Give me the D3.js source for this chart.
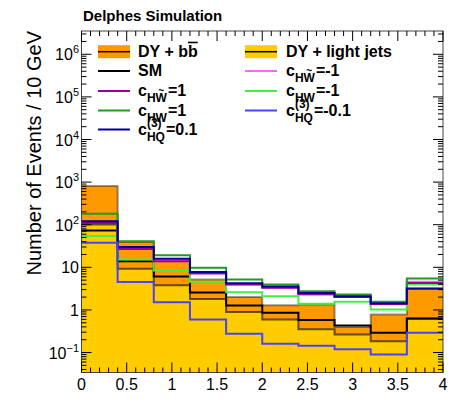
<!DOCTYPE html>
<html>
<head>
<meta charset="utf-8">
<script src="https://cdn.jsdelivr.net/npm/d3@7"></script>
<style>
body{margin:0;background:#fff;}
text{font-family:"Liberation Sans",Arial,Helvetica,sans-serif;}
</style>
</head>
<body>
<div id="chart"></div>
<script>
// bin edges of the histogram (10 bins, 0.4 wide)
var binEdges=[0,0.4,0.8,1.2,1.6,2.0,2.4,2.8,3.2,3.6,4.0];
// backgrounds (stacked)
var dyLight=[101,9.2,3.8,1.8,0.90,0.60,0.35,0.265,0.185,0.62];
var dyBB=[714,30.3,10.6,3.4,1.10,0.69,0.99,0.135,0.595,2.53];
// signal hypotheses
var sm=[73,13.9,6.1,2.55,1.27,0.855,0.58,0.43,0.29,0.63];
var cHWt_p=[110,27,13.9,7.2,3.95,3.3,2.35,2.0,1.38,4.3];
var cHWt_m=[112,28,14.3,7.4,4.0,3.35,2.26,2.02,1.36,4.56];
var cHW_p=[180,41,19.3,9.8,5.2,3.95,2.75,2.3,1.55,5.45];
var cHW_m=[54,15.2,8.4,4.6,2.6,2.1,1.39,1.55,1.02,3.95];
var cHQ_p=[121,30,15.8,7.8,4.25,3.54,2.5,2.1,1.44,3.18];
var cHQ_m=[37.5,4.5,1.52,0.60,0.275,0.16,0.145,0.12,0.09,0.29];

var xTicks=[0,0.5,1,1.5,2,2.5,3,3.5,4];
var xTickLabels=["0","0.5","1","1.5","2","2.5","3","3.5","4"];
var yDecades=[-1,0,1,2,3,4,5,6];

var W=458,H=401;
var fx0=81.5,fx1=443,fyT=31,fyB=372.5;
var yMin=0.034,yMax=3.52e6;

var svg=d3.select("#chart").append("svg").attr("width",W).attr("height",H);
var x=d3.scaleLinear().domain([0,4]).range([fx0,fx1]);
var y=d3.scaleLog().domain([yMin,yMax]).range([fyB,fyT]);

svg.append("clipPath").attr("id","frame")
	.append("rect").attr("x",fx0).attr("y",fyT).attr("width",fx1-fx0).attr("height",fyB-fyT);

var plot=svg.append("g").attr("clip-path","url(#frame)");

// stacked backgrounds
var rows=binEdges.map(function(e,i){
	var k=Math.min(i,dyLight.length-1);
	return {x:e,light:dyLight[k],bb:dyBB[k]};
});
var stacked=d3.stack().keys(["light","bb"])(rows);
var fills=["#ffcc00","#ff9900"];
var area=d3.area().curve(d3.curveStepAfter)
	.x(function(d){return x(d.data.x);})
	.y0(function(d){return d[0]>0?y(d[0]):fyB+5;})
	.y1(function(d){return y(d[1]);});
var topLine=d3.line().curve(d3.curveStepAfter)
	.x(function(d){return x(d.data.x);})
	.y(function(d){return y(d[1]);});

stacked.forEach(function(s,i){
	plot.append("path").attr("d",area(s)).attr("fill",fills[i]).attr("stroke","none");
});
stacked.forEach(function(s,i){
	plot.append("path").attr("d",topLine(s)).attr("fill","none")
		.attr("stroke","#000").attr("stroke-opacity",i==0?0.6:0.4).attr("stroke-width",2);
});

// signal lines
var step=d3.line().curve(d3.curveStepAfter)
	.x(function(d,i){return x(binEdges[i]);})
	.y(function(d){return y(d);});
var series=[
	{v:sm,c:"#000000"},
	{v:cHW_m,c:"#44ee44"},
	{v:cHWt_m,c:"#ff66ff"},
	{v:cHWt_p,c:"#990099"},
	{v:cHW_p,c:"#229922"},
	{v:cHQ_p,c:"#000099"},
	{v:cHQ_m,c:"#4444ff"}
];
series.forEach(function(s){
	plot.append("path").attr("d",step(s.v.concat([s.v[s.v.length-1]])))
		.attr("fill","none").attr("stroke",s.c).attr("stroke-width",2);
});

// frame
svg.append("rect").attr("x",fx0).attr("y",fyT).attr("width",fx1-fx0).attr("height",fyB-fyT)
	.attr("fill","none").attr("stroke","#444").attr("stroke-width",1);

// x ticks (bottom and top)
var ax=svg.append("g").attr("stroke","#000").attr("stroke-width",1);
for(var i=0;i<=40;i++){
	var v=i/10, len=(i%5==0)?10:5, px=x(v);
	ax.append("line").attr("x1",px).attr("x2",px).attr("y1",fyB).attr("y2",fyB-len);
	ax.append("line").attr("x1",px).attr("x2",px).attr("y1",fyT).attr("y2",fyT+len);
}
// y ticks (left and right)
yDecades.concat([-2]).forEach(function(k){
	for(var m=1;m<=9;m++){
		var v=m*Math.pow(10,k);
		if(v<yMin||v>yMax) continue;
		var py=y(v), len=(m==1)?10:5;
		ax.append("line").attr("x1",fx0).attr("x2",fx0+len).attr("y1",py).attr("y2",py);
		ax.append("line").attr("x1",fx1).attr("x2",fx1-len).attr("y1",py).attr("y2",py);
	}
});

// x tick labels
xTicks.forEach(function(t,i){
	svg.append("text").attr("x",x(t)).attr("y",390).attr("text-anchor","middle")
		.attr("font-size",16).text(xTickLabels[i]);
});
// y tick labels
yDecades.forEach(function(k){
	var t=svg.append("text").attr("x",79).attr("y",y(Math.pow(10,k))+6)
		.attr("text-anchor","end").attr("font-size",16);
	if(k==0) t.text("1");
	else if(k==1) t.text("10");
	else {
		t.append("tspan").text("10");
		t.append("tspan").attr("dy",-7).attr("font-size",11).text(k<0?"\u2212"+(-k):k);
	}
});

// titles
svg.append("text").attr("x",83).attr("y",20.5).attr("font-size",15).attr("font-weight","bold")
	.text("Delphes Simulation");
svg.append("text").attr("transform","translate(41,31) rotate(-90)").attr("text-anchor","end")
	.attr("font-size",20).text("Number of Events / 10 GeV");

// legend
var lg=svg.append("g").attr("font-size",16).attr("font-weight","bold");
function swatch(xp,yb,col,fill){
	if(fill){
		lg.append("rect").attr("x",xp).attr("y",yb-11.5).attr("width",32).attr("height",13).attr("fill",fill);
	}
	lg.append("line").attr("x1",xp).attr("x2",xp+32).attr("y1",yb-5).attr("y2",yb-5)
		.attr("stroke",col).attr("stroke-width",fill?1.5:2);
}
function cLabel(xp,yb,sub,sup,rest,tilde){
	var c=lg.append("text").attr("x",xp).attr("y",yb).text("c");
	var cw=c.node().getComputedTextLength();
	var s=lg.append("text").attr("x",xp+cw).attr("y",yb+6).attr("font-size",12).text(sub);
	var sw=s.node().getComputedTextLength();
	if(sup) lg.append("text").attr("x",xp+cw).attr("y",yb-8).attr("font-size",12).text(sup);
	if(tilde){
		var hw=s.node().getSubStringLength(0,1), ww=s.node().getSubStringLength(1,1);
		lg.append("text").attr("x",xp+cw+hw+ww/2).attr("y",yb-2).attr("font-size",10)
			.attr("text-anchor","middle").text("~");
	}
	lg.append("text").attr("x",xp+cw+sw+1).attr("y",yb).text(rest);
}
var rowsY=[56.7,76,96,115.5,134.5];
var lx=98, rx=245, ltx=138, rtx=286;
// row 0
swatch(lx,rowsY[0],"#000","#ff9900");
var t0=lg.append("text").attr("x",ltx).attr("y",rowsY[0]).text("DY + b");
t0.append("tspan").style("text-decoration","overline").text("b");
swatch(rx,rowsY[0],"#000","#ffcc00");
lg.append("text").attr("x",rtx).attr("y",rowsY[0]).text("DY + light jets");
// row 1
swatch(lx,rowsY[1],"#000");
lg.append("text").attr("x",ltx).attr("y",rowsY[1]).text("SM");
swatch(rx,rowsY[1],"#ff66ff");
cLabel(rtx,rowsY[1],"HW",null,"=-1",true);
// row 2
swatch(lx,rowsY[2],"#990099");
cLabel(ltx,rowsY[2],"HW",null,"=1",true);
swatch(rx,rowsY[2],"#44ee44");
cLabel(rtx,rowsY[2],"HW",null,"=-1",false);
// row 3
swatch(lx,rowsY[3],"#229922");
cLabel(ltx,rowsY[3],"HW",null,"=1",false);
swatch(rx,rowsY[3],"#4444ff");
cLabel(rtx,rowsY[3],"HQ","(3)","=-0.1",false);
// row 4
swatch(lx,rowsY[4],"#000099");
cLabel(ltx,rowsY[4],"HQ","(3)","=0.1",false);
</script>
</body>
</html>
